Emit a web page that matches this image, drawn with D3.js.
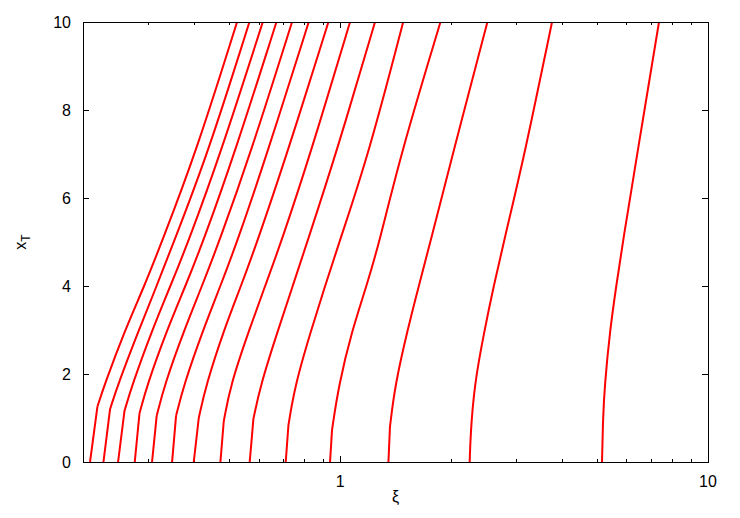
<!DOCTYPE html>
<html><head><meta charset="utf-8">
<script src="https://cdn.jsdelivr.net/npm/d3@7"></script>
<style>body{margin:0;background:#fff}</style>
</head><body><svg id="c" width="740" height="518"></svg>
<script>
// x_T levels at which every curve was read (beyond its bend point)
const xTGrid = [1.75, 3, 4, 5, 7, 10];
// xi value of each curve at x_T = 0
const xiAtZero = [0.209, 0.2273, 0.2491, 0.2765, 0.3081, 0.3493, 0.400, 0.4727, 0.5678, 0.7114, 0.9388, 1.353, 2.250, 5.151];
// x_T of the bend (end of the near-vertical foot) of each curve
const bendXT = [1.26, 1.2, 1.16, 1.1, 1.05, 1.05, 1.0, 0.92, 0.98, 0.84, 0.73, 0.8, 0.6, 1.0];
// xi value at the bend
const xiAtBend = [0.2189, 0.2369, 0.2593, 0.2848, 0.3172, 0.3581, 0.4128, 0.4826, 0.5811, 0.7236, 0.9506, 1.366, 2.261, 5.183];
// xi value of each curve on xTGrid
const xiOnGrid = [
  [0.2287, 0.2600, 0.2938, 0.3274, 0.4044, 0.5246],
  [0.2486, 0.2836, 0.3172, 0.3530, 0.4366, 0.5668],
  [0.2720, 0.3083, 0.3457, 0.3865, 0.4727, 0.6162],
  [0.2987, 0.3382, 0.3798, 0.4239, 0.5161, 0.6713],
  [0.3330, 0.3767, 0.4213, 0.4686, 0.5703, 0.7401],
  [0.3758, 0.4239, 0.4727, 0.5248, 0.6329, 0.8216],
  [0.4320, 0.4830, 0.5378, 0.5950, 0.7173, 0.9294],
  [0.5032, 0.5657, 0.6252, 0.6918, 0.8303, 1.064],
  [0.6075, 0.6780, 0.7433, 0.8139, 0.9747, 1.244],
  [0.7541, 0.8344, 0.9099, 0.995, 1.196, 1.484],
  [0.9913, 1.078, 1.180, 1.279, 1.461, 1.874],
  [1.410, 1.525, 1.636, 1.759, 2.023, 2.514],
  [2.315, 2.469, 2.615, 2.784, 3.176, 3.767],
  [5.238, 5.415, 5.630, 5.867, 6.421, 7.359]
];
// curves whose foot meets the upper part with a sharp corner
const sharpBend = [true,true,true,true,true,true,true,true,true,true,true,true,false,false];

const xMajorTicks = [1, 10];
const xMinorTicks = [0.3,0.4,0.5,0.6,0.7,0.8,0.9,2,3,4,5,6,7,8,9];
const yTicks = [0, 2, 4, 6, 8, 10];
const xDomain = [0.2, 10];
const yDomain = [0, 10];
const xTitle = "ξ";

const W = 740, H = 518;
const m = {l: 83, r: 32, t: 22, b: 56};
const svg = d3.select("#c");
const x = d3.scaleLog().domain(xDomain).range([m.l, W - m.r]);
const y = d3.scaleLinear().domain(yDomain).range([H - m.b, m.t]);
const font = "'Liberation Sans', Arial, Helvetica, sans-serif";

svg.append("defs").append("clipPath").attr("id","clip")
  .append("rect").attr("x", m.l).attr("y", m.t).attr("width", W-m.l-m.r).attr("height", H-m.t-m.b);

// ticks (inside, mirrored)
const tk = svg.append("g").attr("stroke", "#000").attr("stroke-width", 1);
function xt(v, len){
  const px = Math.round(x(v)) + 0.5;
  tk.append("line").attr("x1", px).attr("x2", px).attr("y1", y(0)).attr("y2", y(0)-len);
  tk.append("line").attr("x1", px).attr("x2", px).attr("y1", y(10)).attr("y2", y(10)+len);
}
xMinorTicks.forEach(v => xt(v, 3));
xMajorTicks.forEach(v => xt(v, 6));
yTicks.forEach(v => {
  const py = Math.round(y(v)) + 0.5;
  tk.append("line").attr("x1", x(0.2)).attr("x2", x(0.2)+6).attr("y1", py).attr("y2", py);
  tk.append("line").attr("x1", x(10)).attr("x2", x(10)-6).attr("y1", py).attr("y2", py);
});

// curves
const g = svg.append("g").attr("clip-path", "url(#clip)");
const lin = d3.line().x(d => x(d[0])).y(d => y(d[1])).curve(d3.curveLinear);
const smooth = d3.line().x(d => x(d[0])).y(d => y(d[1])).curve(d3.curveBasis);
xiAtZero.forEach((x0, i) => {
  const pts = [[x0, 0], [xiAtBend[i], bendXT[i]]].concat(xTGrid.map((t, j) => [xiOnGrid[i][j], t]));
  const d = sharpBend[i] ? lin(pts.slice(0, 2)) + smooth(pts.slice(1)) : smooth(pts);
  g.append("path").attr("d", d).attr("fill", "none").attr("stroke", "#ff0000")
    .attr("stroke-width", 2).attr("stroke-linejoin", "round");
});

// frame
svg.append("rect").attr("x", m.l + 0.5).attr("y", m.t + 0.5)
  .attr("width", W - m.l - m.r).attr("height", H - m.t - m.b)
  .attr("fill", "none").attr("stroke", "#000").attr("stroke-width", 1);

// tick labels
const lab = svg.append("g").attr("font-family", font).attr("font-size", 16).attr("fill", "#000");
yTicks.forEach(v => lab.append("text").attr("x", m.l - 12).attr("y", y(v)).attr("dy", "0.36em")
  .attr("text-anchor", "end").text(v));
xMajorTicks.forEach(v => lab.append("text").attr("x", x(v)).attr("y", y(0) + 25)
  .attr("text-anchor", "middle").text(v));

// axis titles
lab.append("text").attr("x", (m.l + W - m.r) / 2).attr("y", H - 16).attr("text-anchor", "middle").text(xTitle);
const yt = lab.append("text").attr("transform", `translate(26,${(m.t + H - m.b)/2}) rotate(-90)`)
  .attr("text-anchor", "middle");
yt.append("tspan").text("x");
yt.append("tspan").attr("font-size", 12).attr("dy", 4).text("T");
</script></body></html>
